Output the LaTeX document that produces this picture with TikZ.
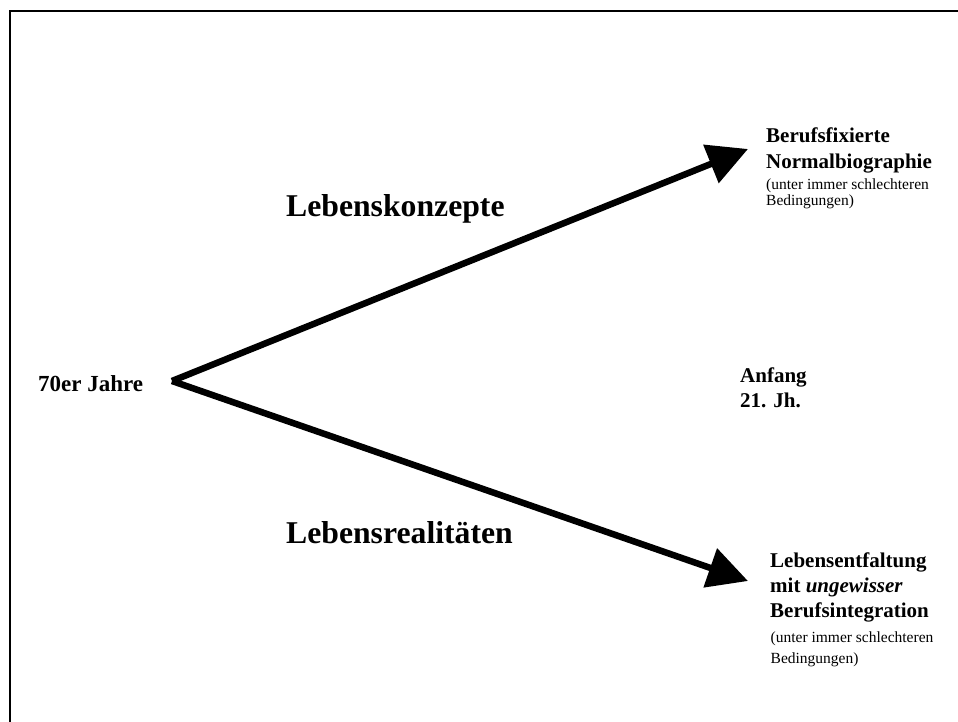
\documentclass[tikz,border=0pt]{standalone}
\usepackage{fontspec}
\setmainfont{Liberation Serif}
\usetikzlibrary{arrows.meta}
\tikzset{
  lbl/.style={inner sep=0pt, anchor=base west, align=left},
  boldlbl/.style={lbl, font=\fontsize{21}{25.5}\selectfont\bfseries},
  biglbl/.style={lbl, font=\fontsize{31.7}{36}\selectfont\bfseries},
  smalllbl/.style={lbl, font=\fontsize{15.5}{16}\selectfont},
  bigarrow/.style={line width=6.5pt, -{Triangle[length=40pt,width=40pt]}},
  frame/.style={line width=2pt}
}
\begin{document}
\begin{tikzpicture}[x=1pt,y=-1pt]
\useasboundingbox (0,0) rectangle (958,722);
\draw[frame] (10,723) -- (10,11.5) -- (959,11.5);
\coordinate (o) at (172,381);
\coordinate (tipU) at (748,149);
\coordinate (tipD) at (748,581);
\draw[bigarrow] (o) -- (tipU);
\draw[bigarrow] (o) -- (tipD);
\node[boldlbl, font=\fontsize{23}{26}\selectfont\bfseries] (start) at (38,391) {70er Jahre};
\node[biglbl] (konz) at (286,217) {Lebenskonzepte};
\node[biglbl] (real) at (286,543) {Lebensrealitäten};
\node[boldlbl, font=\fontsize{21}{26}\selectfont\bfseries] (berufs) at (766,169) {Berufsfixierte\\Normalbiographie};
\node[smalllbl] (bedU) at (766,205.5) {(unter immer schlechteren\\Bedingungen)};
\node[boldlbl, font=\fontsize{21}{25}\selectfont\bfseries] (anfang) at (740,407) {Anfang\\21. Jh.};
\node[boldlbl, font=\fontsize{21}{25}\selectfont\bfseries] (entf) at (770,617) {Lebensentfaltung\\mit \textit{ungewisser}\\Berufsintegration};
\node[smalllbl, font=\fontsize{15.5}{21}\selectfont] (bedD) at (770.5,663) {(unter immer schlechteren\\Bedingungen)};
\end{tikzpicture}
\end{document}
